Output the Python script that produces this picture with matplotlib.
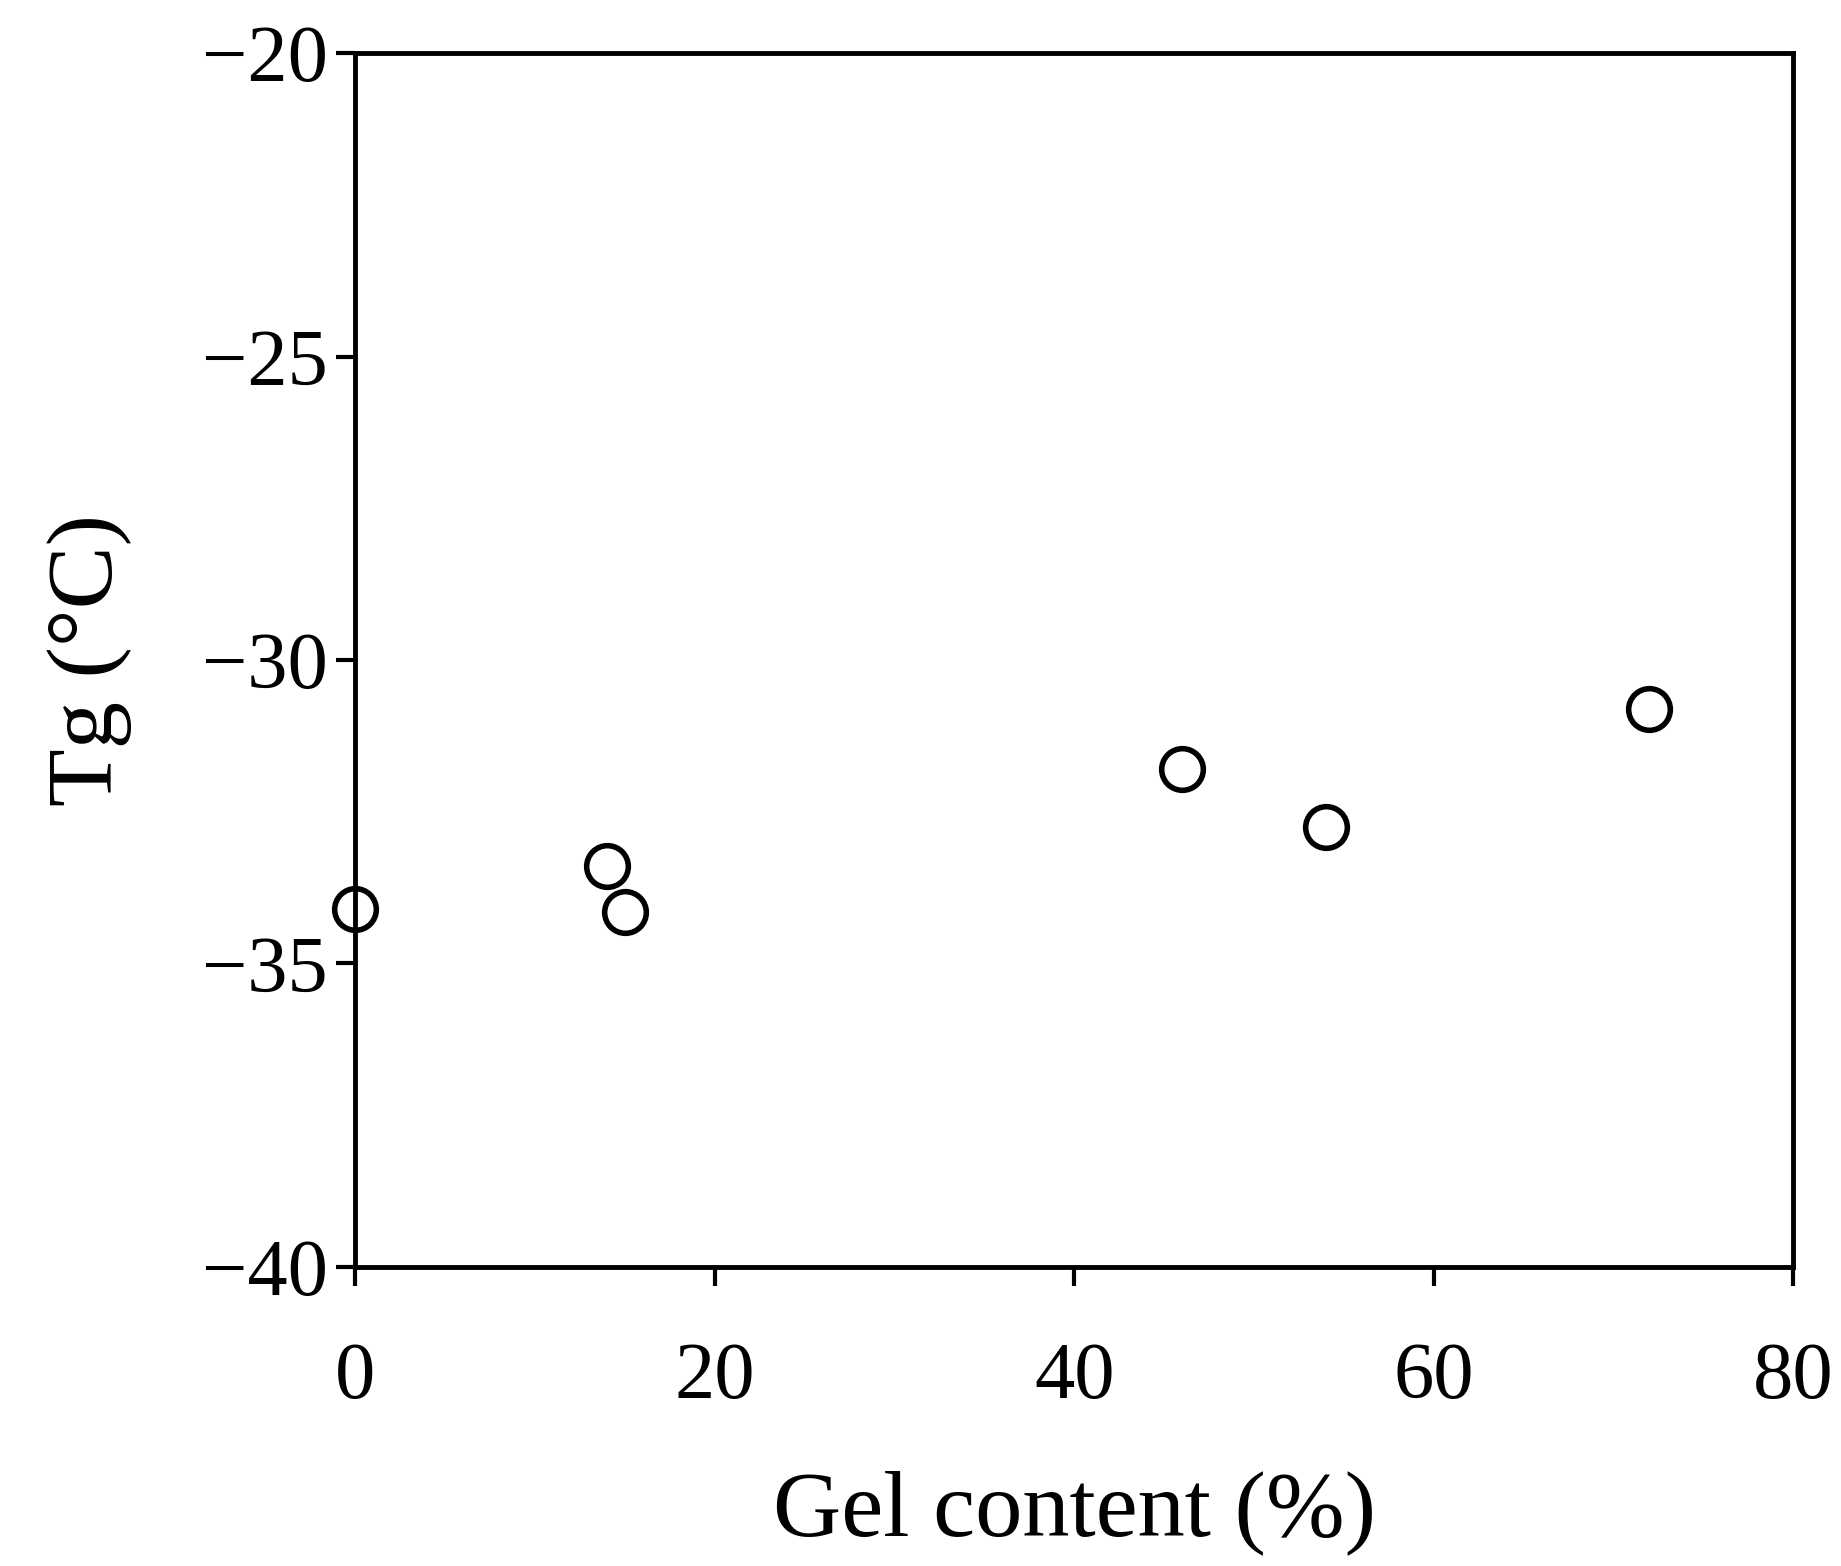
import matplotlib
matplotlib.use("Agg")
import matplotlib.pyplot as plt

gel_content = [0, 14, 15, 46, 54, 72]
tg = [-34.1, -33.4, -34.15, -31.8, -32.75, -30.8]
xticks = [0, 20, 40, 60, 80]
yticks = [-40, -35, -30, -25, -20]

plt.rcParams['font.family'] = ['Liberation Serif', 'DejaVu Serif']
fig = plt.figure(figsize=(18.41, 15.66), dpi=100)
ax = fig.add_axes([0.193, 0.191, 0.781, 0.775])
ax.plot(gel_content, tg, linestyle='none', marker='o', markersize=30,
        markerfacecolor='none', markeredgecolor='black', markeredgewidth=4, clip_on=False)
ax.set_xlim(0, 80)
ax.set_ylim(-40, -20)
ax.set_xticks(xticks)
ax.set_yticks(yticks)
ax.set_yticklabels([f"\u2212{abs(v)}" for v in yticks])
for s in ax.spines.values():
    s.set_linewidth(3.5)
ax.tick_params(direction='out', length=14, width=3, labelsize=58)
ax.tick_params(axis='x', pad=40)
ax.tick_params(axis='y', pad=6)
ax.set_xlabel('Gel content (%)', fontsize=68, labelpad=40)
ax.set_ylabel('Tg (°C)', fontsize=68, labelpad=50)
fig.savefig('out.png', dpi=100)
